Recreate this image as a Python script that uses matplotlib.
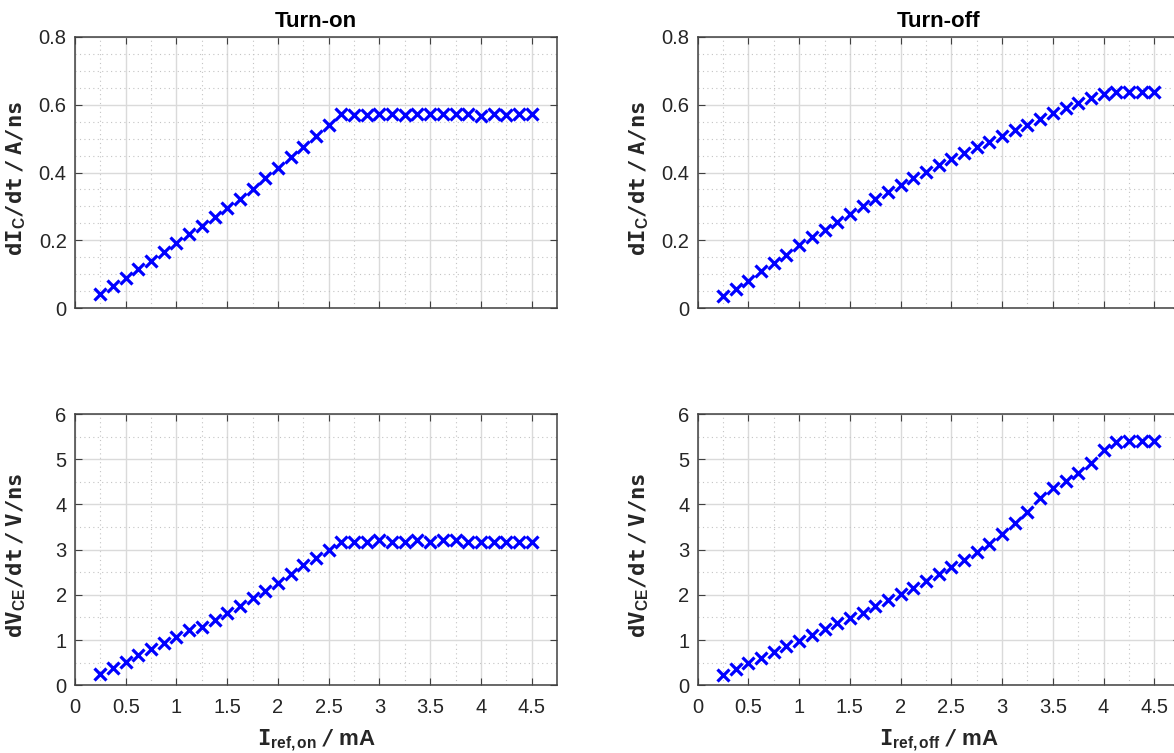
import matplotlib
matplotlib.use("Agg")
import matplotlib.pyplot as plt
from matplotlib.ticker import MultipleLocator

# Reference current (mA)
I_ref = [0.25, 0.375, 0.5, 0.625, 0.75, 0.875, 1.0, 1.125, 1.25, 1.375, 1.5,
         1.625, 1.75, 1.875, 2.0, 2.125, 2.25, 2.375, 2.5, 2.625, 2.75, 2.875,
         3.0, 3.125, 3.25, 3.375, 3.5, 3.625, 3.75, 3.875, 4.0, 4.125, 4.25,
         4.375, 4.5]

# Current slope dI_C/dt (A/ns)
dic_on = [0.042, 0.066, 0.090, 0.115, 0.138, 0.166, 0.191, 0.218, 0.243, 0.270,
          0.295, 0.322, 0.352, 0.383, 0.414, 0.445, 0.475, 0.508, 0.539, 0.573,
          0.570, 0.570, 0.573, 0.571, 0.570, 0.571, 0.571, 0.573, 0.573, 0.571,
          0.566, 0.571, 0.570, 0.572, 0.572]
dic_off = [0.036, 0.057, 0.081, 0.109, 0.133, 0.157, 0.186, 0.209, 0.231, 0.254,
           0.277, 0.302, 0.323, 0.343, 0.362, 0.385, 0.401, 0.421, 0.440, 0.457,
           0.474, 0.491, 0.508, 0.525, 0.540, 0.557, 0.574, 0.589, 0.606, 0.619,
           0.631, 0.637, 0.637, 0.637, 0.637]

# Voltage slope dV_CE/dt (V/ns)
dv_on = [0.25, 0.39, 0.52, 0.66, 0.81, 0.93, 1.07, 1.22, 1.30, 1.45, 1.61, 1.76,
         1.92, 2.09, 2.27, 2.46, 2.65, 2.82, 3.00, 3.18, 3.18, 3.18, 3.21, 3.18,
         3.18, 3.21, 3.18, 3.21, 3.21, 3.18, 3.18, 3.18, 3.18, 3.18, 3.18]
dv_off = [0.23, 0.35, 0.49, 0.61, 0.73, 0.87, 0.99, 1.11, 1.24, 1.37, 1.49, 1.61,
          1.75, 1.89, 2.02, 2.16, 2.30, 2.46, 2.62, 2.77, 2.95, 3.12, 3.34, 3.58,
          3.84, 4.15, 4.36, 4.52, 4.70, 4.91, 5.20, 5.39, 5.41, 5.41, 5.41]

titles = ["Turn-on", "Turn-off"]
x_ticks = [0, 0.5, 1, 1.5, 2, 2.5, 3, 3.5, 4, 4.5]
x_tick_labels = ["0", "0.5", "1", "1.5", "2", "2.5", "3", "3.5", "4", "4.5"]
x_labels = [r"$\mathrm{I}_{\mathsf{ref,on}}\mathrm{\ /\ }\mathsf{mA}$",
            r"$\mathrm{I}_{\mathsf{ref,off}}\mathrm{\ /\ }\mathsf{mA}$"]
y_label_top = r"$\mathrm{dI}_{\mathsf{C}}\mathrm{/dt\ /\ A/ns}$"
y_label_bot = r"$\mathrm{dV}_{\mathsf{CE}}\mathrm{/dt\ /\ V/ns}$"

plt.rcParams["font.family"] = ["Liberation Sans", "DejaVu Sans"]
plt.rcParams["mathtext.fontset"] = "custom"
plt.rcParams["mathtext.rm"] = "DejaVu Sans Mono:bold"
plt.rcParams["mathtext.sf"] = "Liberation Sans:bold"
plt.rcParams["mathtext.it"] = "DejaVu Sans Mono:bold"
plt.rcParams["mathtext.bf"] = "DejaVu Sans Mono:bold"

AX_COL = "#262626"
SPINE_COL = "#404040"

W, H = 1174, 753
fig = plt.figure(figsize=(W / 100, H / 100), dpi=100)


def frac(x0, y_top, x1, y_bot):
    return [x0 / W, 1 - y_bot / H, (x1 - x0) / W, (y_bot - y_top) / H]


positions = {
    (0, 0): frac(75, 36.7, 557, 308.3),
    (0, 1): frac(697.7, 36.7, 1179.7, 308.3),
    (1, 0): frac(75, 414, 557, 685.3),
    (1, 1): frac(697.7, 414, 1179.7, 685.3),
}

series = {
    (0, 0): dic_on, (0, 1): dic_off,
    (1, 0): dv_on, (1, 1): dv_off,
}

for (r, c), pos in positions.items():
    ax = fig.add_axes(pos)
    ax.plot(I_ref, series[(r, c)], linestyle="none", marker="x",
            color="#0000ff", markersize=8, markeredgewidth=2.3, zorder=3)
    ax.set_xlim(0, 4.75)
    ax.set_xticks(x_ticks)
    ax.xaxis.set_minor_locator(MultipleLocator(0.25))
    if r == 0:
        ax.set_ylim(0, 0.8)
        ax.set_yticks([0, 0.2, 0.4, 0.6, 0.8])
        ax.set_yticklabels(["0", "0.2", "0.4", "0.6", "0.8"])
        ax.yaxis.set_minor_locator(MultipleLocator(0.05))
        ax.set_xticklabels([])
        ax.set_ylabel(y_label_top, fontsize=16, color=AX_COL)
        ax.set_title(titles[c], fontsize=16, fontweight="bold", color="black", pad=7)
    else:
        ax.set_ylim(0, 6)
        ax.set_yticks(range(0, 7))
        ax.yaxis.set_minor_locator(MultipleLocator(0.5))
        ax.set_xticklabels(x_tick_labels)
        ax.set_ylabel(y_label_bot, fontsize=16, color=AX_COL)
        ax.set_xlabel(x_labels[c], fontsize=16, color=AX_COL)
        ax.xaxis.set_label_coords(0.5, -0.155)
    ax.yaxis.set_label_coords(-0.097, 0.48)

    ax.grid(True, which="major", color="#dadada", linewidth=1.0, linestyle="-", zorder=0)
    ax.grid(True, which="minor", color="#c4c4c4", linewidth=0.8, linestyle=(0, (1, 3)), zorder=0)
    ax.set_axisbelow(True)
    ax.tick_params(which="both", direction="in", top=True, right=True,
                   colors=AX_COL, labelsize=14.5, width=0.8)
    ax.tick_params(which="major", length=5, color=SPINE_COL)
    ax.tick_params(which="minor", length=0)
    ax.tick_params(axis="y", pad=6)
    ax.tick_params(axis="x", pad=9)
    for s in ax.spines.values():
        s.set_color(SPINE_COL)
        s.set_linewidth(1.1)

fig.savefig("out.png", dpi=100)
